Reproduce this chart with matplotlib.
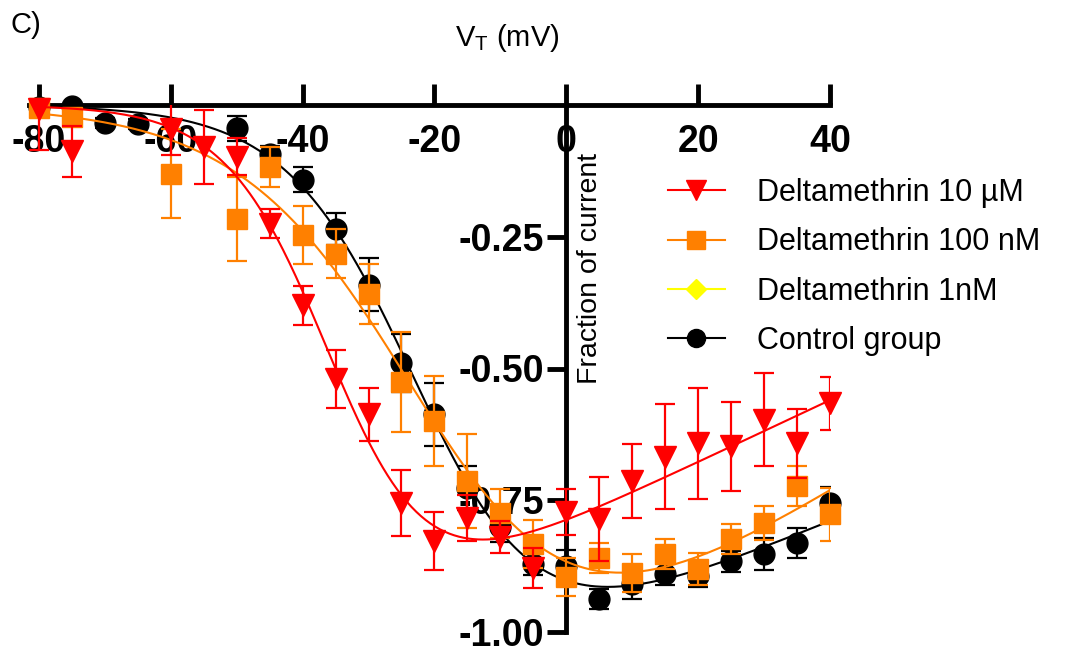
import numpy as np
import matplotlib
matplotlib.use("Agg")
import matplotlib.pyplot as plt
from matplotlib.lines import Line2D

plt.rcParams["font.family"] = ["Liberation Sans", "DejaVu Sans"]
plt.rcParams["mathtext.fontset"] = "custom"
plt.rcParams["mathtext.rm"] = "Liberation Sans"
plt.rcParams["mathtext.it"] = "Liberation Sans:italic"
plt.rcParams["mathtext.bf"] = "Liberation Sans:bold"

nan = np.nan

# ---------------- data ----------------
voltage = [-80, -75, -70, -65, -60, -55, -50, -45, -40, -35, -30, -25, -20,
           -15, -10, -5, 0, 5, 10, 15, 20, 25, 30, 35, 40]

delta_10uM_mean = [-0.008, -0.088, nan, nan, -0.045, -0.080, -0.098, -0.225, -0.380,
                   -0.520, -0.587, -0.755, -0.828, -0.784, -0.820, -0.879, -0.772,
                   -0.786, -0.714, -0.667, -0.642, -0.648, -0.597, -0.642, -0.566]
delta_10uM_err = [0.078, 0.048, nan, nan, 0.050, 0.070, 0.035, 0.027, 0.037,
                  0.055, 0.050, 0.062, 0.055, 0.044, 0.030, 0.038, 0.043,
                  0.080, 0.070, 0.100, 0.105, 0.085, 0.088, 0.066, 0.050]

delta_100nM_mean = [-0.005, -0.022, nan, nan, -0.130, nan, -0.216, -0.117, -0.246,
                    -0.282, -0.358, -0.525, -0.600, -0.714, -0.775, -0.833, -0.895,
                    -0.860, -0.888, -0.852, -0.880, -0.824, -0.793, -0.723, -0.777]
delta_100nM_err = [0.015, 0.015, nan, nan, 0.085, nan, 0.080, 0.038, 0.055,
                   0.046, 0.057, 0.095, 0.085, 0.089, 0.047, 0.045, 0.036,
                   0.028, 0.036, 0.028, 0.030, 0.028, 0.033, 0.038, 0.050]

control_mean = [-0.003, -0.002, -0.034, -0.036, nan, nan, -0.044, -0.093, -0.142,
                -0.235, -0.341, -0.490, -0.587, -0.727, -0.800, -0.871, -0.875,
                -0.938, -0.909, -0.890, -0.894, -0.866, -0.852, -0.831, -0.756]
control_err = [0.010, 0.010, 0.010, 0.010, nan, nan, 0.024, 0.015, 0.024,
               0.030, 0.050, 0.055, 0.060, 0.042, 0.030, 0.020, 0.030,
               0.019, 0.028, 0.020, 0.020, 0.020, 0.030, 0.028, 0.032]

series_labels = ["Deltamethrin 10 µM", "Deltamethrin 100 nM",
                 "Deltamethrin 1nM", "Control group"]
x_ticks = [-80, -60, -40, -20, 0, 20, 40]
y_ticks = [-1.0, -0.75, -0.5, -0.25]
y_ticklabels = ["-1.00", "-0.75", "-0.50", "-0.25"]
x_label = r"V$_{\mathrm{T}}$ (mV)"
y_label = "Fraction of current"
panel_label = "C)"


# ---------------- Boltzmann I-V fit (least squares on the data) ----------------
def fit_iv(v, i):
    v = np.asarray(v, float)
    i = np.asarray(i, float)
    m = ~np.isnan(i)
    v, i = v[m], i[m]
    vh = np.arange(-60, 0.01, 0.25)[:, None, None]
    k = np.arange(-20, -1.99, 0.1)[None, :, None]
    f = 1.0 / (1.0 + np.exp((v[None, None, :] - vh) / k))
    x1 = v * f
    x2 = f
    s11 = (x1 * x1).sum(-1)
    s12 = (x1 * x2).sum(-1)
    s22 = (x2 * x2).sum(-1)
    t1 = (x1 * i).sum(-1)
    t2 = (x2 * i).sum(-1)
    det = s11 * s22 - s12 ** 2
    a = (t1 * s22 - t2 * s12) / det
    b = (s11 * t2 - s12 * t1) / det
    sse = ((a[..., None] * x1 + b[..., None] * x2 - i) ** 2).sum(-1)
    idx = np.unravel_index(np.argmin(sse), sse.shape)
    return vh[idx[0], 0, 0], k[0, idx[1], 0], a[idx], b[idx]


def iv_curve(params, vv):
    vh, k, a, b = params
    f = 1.0 / (1.0 + np.exp((vv - vh) / k))
    return a * vv * f + b * f


# ---------------- figure ----------------
W, H = 1065, 653
fig = plt.figure(figsize=(W / 100, H / 100), dpi=100)
ax = fig.add_axes([29 / W, 21 / H, 801 / W, 527 / H])
ax.set_xlim(-81.5, 40)
ax.set_ylim(-1.0, 0)

RED = "#FF0000"
ORANGE = "#FF8000"
BLACK = "#000000"
YELLOW = "#FFFF00"

vv = np.linspace(voltage[0], voltage[-1], 500)
series = [
    (control_mean, control_err, BLACK, "o", 15, 4),
    (delta_100nM_mean, delta_100nM_err, ORANGE, "s", 15, 5),
    (delta_10uM_mean, delta_10uM_err, RED, "v", 16, 6),
]
for mean, err, col, mk, ms, z in series:
    ax.errorbar(voltage, mean, yerr=err, fmt="none", ecolor=col, elinewidth=1.6,
                capsize=7, capthick=1.6, zorder=z)
    ax.plot(vv, iv_curve(fit_iv(voltage, mean), vv), color=col, lw=1.5, zorder=z + 0.1)
    ax.plot(voltage, mean, linestyle="none", marker=mk, ms=ms, color=col,
            markeredgecolor=col, clip_on=False, zorder=z + 0.2)

for s in ("top", "right"):
    ax.spines[s].set_visible(False)
ax.spines["bottom"].set_position(("data", 0))
ax.spines["left"].set_position(("data", 0))
for s in ("bottom", "left"):
    ax.spines[s].set_linewidth(3.5)
    ax.spines[s].set_zorder(2)

ax.set_xticks(x_ticks)
ax.set_xticklabels([str(t) for t in x_ticks], fontweight="bold")
ax.set_yticks(y_ticks)
ax.set_yticklabels(y_ticklabels, fontweight="bold")
ax.tick_params(axis="x", direction="in", length=15, width=3.5, pad=14, labelsize=27)
ax.tick_params(axis="y", direction="out", length=14, width=3.5, pad=2, labelsize=27)

fig.text(10 / W, 1 - 11 / H, panel_label, fontsize=21, ha="left", va="top")
fig.text(507 / W, 1 - 38 / H, x_label, fontsize=21, ha="center", va="center")
fig.text(590 / W, 1 - 268 / H, y_label, fontsize=20.5, rotation=90,
         ha="center", va="center")

handles = [
    Line2D([], [], color=RED, marker="v", ms=14, lw=1.5),
    Line2D([], [], color=ORANGE, marker="s", ms=13, lw=1.5),
    Line2D([], [], color=YELLOW, marker="D", ms=10, lw=1.5),
    Line2D([], [], color=BLACK, marker="o", ms=13, lw=1.5),
]
fig.legend(handles, series_labels, loc="upper left",
           bbox_to_anchor=(668 / W, 1 - 178 / H), frameon=False, fontsize=22,
           handlelength=1.85, handletextpad=1.05, labelspacing=0.63,
           borderaxespad=0, borderpad=0)

fig.savefig("out.png", dpi=100)
